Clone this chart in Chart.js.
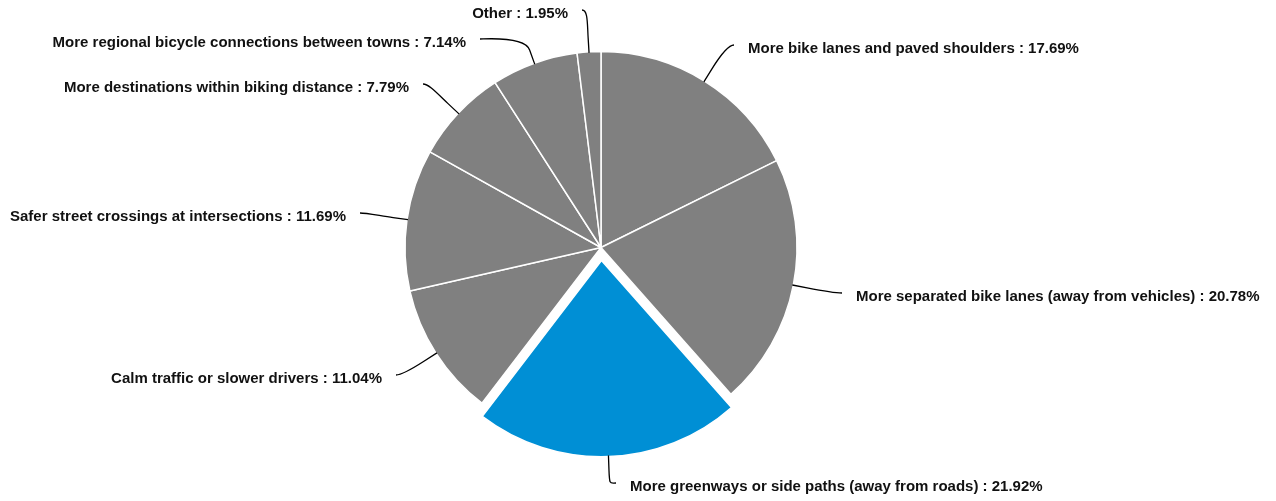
<!DOCTYPE html>
<html>
<head>
<meta charset="utf-8">
<script src="https://cdn.jsdelivr.net/npm/chart.js@4/dist/chart.umd.min.js"></script>
<style>
  html, body { margin: 0; padding: 0; background: #fff; }
</style>
</head>
<body>
<canvas id="pie" width="1276" height="501"></canvas>
<script>
const categories = [
    'More bike lanes and paved shoulders',
    'More separated bike lanes (away from vehicles)',
    'More greenways or side paths (away from roads)',
    'Calm traffic or slower drivers',
    'Safer street crossings at intersections',
    'More destinations within biking distance',
    'More regional bicycle connections between towns',
    'Other'
];
const shares = [17.69, 20.78, 21.92, 11.04, 11.69, 7.79, 7.14, 1.95];
const highlighted = 2; // greenways slice is pulled out and coloured

// end of each leader line, relative to the pie centre
const labelOffsets = [
    [133, -202.5],
    [241, 45.5],
    [15, 235.5],
    [-205, 127.5],
    [-241, -34.5],
    [-178, -163.5],
    [-121, -208.5],
    [-19, -237.5]
];

const sliceLabels = {
    id: 'sliceLabels',
    afterDatasetsDraw(chart) {
        const ctx = chart.ctx;
        const meta = chart.getDatasetMeta(0);
        ctx.save();
        ctx.font = 'bold 15px "Liberation Sans", Arial, sans-serif';
        ctx.textBaseline = 'middle';
        ctx.strokeStyle = '#000';
        ctx.fillStyle = '#111';
        ctx.lineWidth = 1.3;
        meta.data.forEach((arc, i) => {
            const mid = (arc.startAngle + arc.endAngle) / 2;
            const dx = Math.cos(mid), dy = Math.sin(mid);
            const shift = (arc.options.offset || 0) / 4;
            const r = arc.outerRadius + shift - 1;
            const touch = { x: arc.x + dx * r, y: arc.y + dy * r };
            const brk = { x: touch.x + dx * 15, y: touch.y + dy * 15 };
            const end = { x: arc.x + labelOffsets[i][0], y: arc.y + labelOffsets[i][1] };
            const left = end.x < arc.x;

            // soft connector: curve from the label into the break point, then straight to the slice
            ctx.beginPath();
            ctx.moveTo(end.x, end.y);
            ctx.bezierCurveTo(end.x + (left ? 6 : -6), end.y,
                2 * brk.x - touch.x, 2 * brk.y - touch.y, brk.x, brk.y);
            ctx.lineTo(touch.x, touch.y);
            ctx.stroke();

            ctx.textAlign = left ? 'right' : 'left';
            const text = categories[i] + ' : ' + shares[i].toFixed(2) + '%';
            ctx.fillText(text, end.x + (left ? -14 : 14), end.y + 4);
        });
        ctx.restore();
    }
};

new Chart(document.getElementById('pie').getContext('2d'), {
    type: 'pie',
    data: {
        labels: categories,
        datasets: [{
            data: shares,
            backgroundColor: shares.map((_, i) => i === highlighted ? '#008fd5' : '#808080'),
            borderColor: '#ffffff',
            borderWidth: 1.5,
            offset: shares.map((_, i) => i === highlighted ? 52 : 0)
        }]
    },
    options: {
        responsive: false,
        animation: false,
        events: [],
        radius: 196,
        layout: { padding: { left: 0, right: 74, top: 0, bottom: 6 } },
        plugins: {
            legend: { display: false },
            tooltip: { enabled: false }
        }
    },
    plugins: [sliceLabels]
});
</script>
</body>
</html>
